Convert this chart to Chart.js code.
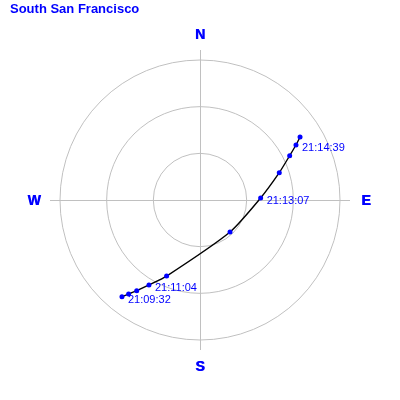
<!DOCTYPE html>
<html>
<head>
<meta charset="utf-8">
<script src="https://cdn.jsdelivr.net/npm/chart.js@4.4.1/dist/chart.umd.min.js"></script>
<style>
  body { margin: 0; background: #fff; }
  #wrap { width: 400px; height: 400px; }
</style>
</head>
<body>
<div id="wrap"><canvas id="skyChart" width="400" height="400"></canvas></div>
<script>
// Pass data: azimuth / elevation in degrees
const times = ['21:09:32', '', '', '21:11:04', '', '', '21:13:07', '', '', '21:14:39', ''];
const azimuth = [218.9, 217.2, 214.9, 211.0, 203.7, 136.8, 88.1, 71.0, 63.7, 60.2, 57.8];
const elevation = [10.1, 14.1, 18.9, 26.3, 36.6, 61.8, 51.0, 36.1, 25.7, 18.9, 14.0];
const ringElevations = [0, 30, 60];
const compass = ['N', 'E', 'S', 'W'];

const R = 90 * 200 / 140; // data units from centre to canvas edge
const blue = '#0000ff';

// convert az/el to x/y on the sky plot
const points = azimuth.map((az, i) => {
    const r = 90 - elevation[i];
    const a = az * Math.PI / 180;
    return { x: r * Math.sin(a), y: r * Math.cos(a) };
});

const skyPlugin = {
    id: 'skyPlot',
    beforeDatasetsDraw(chart) {
        const ctx = chart.ctx;
        const xs = chart.scales.x, ys = chart.scales.y;
        const cx = xs.getPixelForValue(0), cy = ys.getPixelForValue(0);
        ctx.save();
        ctx.strokeStyle = '#c0c0c0';
        ctx.lineWidth = 1;
        // rings
        ringElevations.forEach(el => {
            const rp = xs.getPixelForValue(90 - el) - cx;
            ctx.beginPath();
            ctx.arc(cx, cy, rp, 0, Math.PI * 2);
            ctx.stroke();
        });
        // cross lines
        const ext = 90 * 150 / 140;
        ctx.beginPath();
        ctx.moveTo(xs.getPixelForValue(-ext), cy + 0.5);
        ctx.lineTo(xs.getPixelForValue(ext), cy + 0.5);
        ctx.moveTo(cx + 0.5, ys.getPixelForValue(ext));
        ctx.lineTo(cx + 0.5, ys.getPixelForValue(-ext));
        ctx.stroke();

        // compass letters
        ctx.fillStyle = blue;
        ctx.font = 'bold 14px "Liberation Sans", Arial';
        ctx.textAlign = 'center';
        ctx.textBaseline = 'middle';
        const lr = 90 * 166 / 140;
        compass.forEach((c, i) => {
            const a = i * Math.PI / 2;
            const px = xs.getPixelForValue(lr * Math.sin(a));
            const py = ys.getPixelForValue(lr * Math.cos(a)) + 1;
            ctx.fillText(c, px, py);
            ctx.fillText(c, px + 0.6, py); // heavier stroke
        });

        // title
        ctx.font = 'bold 13px "Liberation Sans", Arial';
        ctx.textAlign = 'left';
        ctx.fillText('South San Francisco', 10, 9);
        ctx.restore();
    },
    afterDatasetsDraw(chart) {
        const ctx = chart.ctx;
        const meta = chart.getDatasetMeta(0);
        ctx.save();
        ctx.fillStyle = blue;
        ctx.font = '11px "Liberation Sans", Arial';
        ctx.textAlign = 'left';
        ctx.textBaseline = 'middle';
        meta.data.forEach((pt, i) => {
            if (times[i]) ctx.fillText(times[i], pt.x + 6, pt.y + 3);
        });
        ctx.restore();
    }
};

new Chart(document.getElementById('skyChart'), {
    type: 'scatter',
    data: {
        datasets: [{
            data: points,
            showLine: true,
            borderColor: '#000',
            borderWidth: 1.4,
            tension: 0.2,
            pointRadius: 2.5,
            pointBackgroundColor: blue,
            pointBorderWidth: 0
        }]
    },
    options: {
        responsive: false,
        animation: false,
        layout: { padding: 0, autoPadding: false },
        scales: {
            x: { type: 'linear', min: -R, max: R, display: false },
            y: { type: 'linear', min: -R, max: R, display: false }
        },
        plugins: {
            legend: { display: false },
            tooltip: { enabled: false }
        }
    },
    plugins: [skyPlugin]
});
</script>
</body>
</html>
